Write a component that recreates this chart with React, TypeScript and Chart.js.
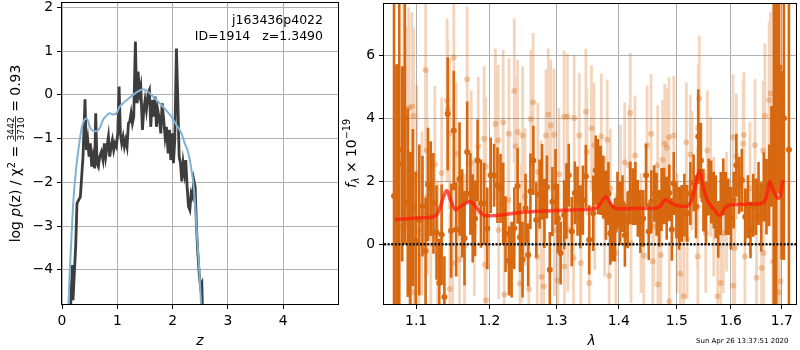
import React, { useEffect, useRef } from 'react';
import { Chart, registerables } from 'chart.js';
Chart.register(...registerables);

const FONT = '"DejaVu Sans", sans-serif';

// ---------------- left panel: p(z) ----------------
const zDark = [0.151, 0.187, 0.199, 0.247, 0.271, 0.302, 0.332, 0.350, 0.380, 0.416, 0.440, 0.465, 0.489, 0.513, 0.537, 0.561, 0.591, 0.609, 0.633, 0.658, 0.682, 0.712, 0.742, 0.766, 0.790, 0.814, 0.839, 0.863, 0.887, 0.911, 0.935, 0.959, 0.983, 1.008, 1.032, 1.056, 1.080, 1.104, 1.128, 1.152, 1.176, 1.201, 1.225, 1.249, 1.273, 1.297, 1.327, 1.351, 1.376, 1.400, 1.424, 1.454, 1.478, 1.502, 1.526, 1.557, 1.581, 1.605, 1.629, 1.653, 1.683, 1.707, 1.732, 1.762, 1.786, 1.810, 1.834, 1.864, 1.888, 1.919, 1.943, 1.967, 1.991, 2.015, 2.039, 2.069, 2.094, 2.118, 2.142, 2.166, 2.190, 2.214, 2.238, 2.262, 2.287, 2.311, 2.335, 2.359, 2.383, 2.407, 2.431, 2.456, 2.480, 2.504, 2.528, 2.540];
const logpDark = [-5.0, -3.89, -4.69, -3.47, -2.48, -2.40, -2.33, -1.98, -1.41, -0.10, -1.26, -1.03, -1.41, -1.11, -1.64, -1.41, -1.68, -0.42, -1.56, -1.64, -1.41, -1.30, -1.49, -1.11, -1.41, -1.18, -0.96, -1.41, -1.18, -1.03, -1.26, -1.11, -1.18, -0.88, 0.19, -0.88, -1.11, -0.96, -1.18, -1.03, -1.18, -0.65, -0.61, -0.42, -0.65, -0.50, 1.22, -0.19, 0.53, 0.03, 0.19, -0.80, -0.35, -0.12, -0.35, 0.03, 0.11, -0.73, -0.12, -0.50, -0.04, -0.73, -0.35, -0.57, -0.88, -0.19, -0.50, -0.96, -0.73, -1.34, -0.80, -1.49, -0.88, -1.56, -1.03, 1.06, -0.12, -1.41, -1.56, -1.98, -1.56, -1.79, -1.49, -2.10, -2.55, -2.63, -2.25, -2.33, -1.95, -2.10, -3.01, -3.62, -4.08, -4.38, -4.31, -5.0];
const zPrior = [0.109, 0.139, 0.169, 0.199, 0.247, 0.296, 0.350, 0.410, 0.452, 0.501, 0.561, 0.621, 0.682, 0.742, 0.802, 0.863, 0.923, 0.983, 1.044, 1.134, 1.225, 1.315, 1.406, 1.466, 1.526, 1.617, 1.707, 1.798, 1.888, 1.979, 2.069, 2.160, 2.220, 2.268, 2.311, 2.341, 2.371, 2.401, 2.431, 2.462, 2.492, 2.522];
const logpPrior = [-5.0, -4.08, -3.32, -2.55, -1.79, -1.26, -0.80, -0.56, -0.54, -0.73, -0.82, -0.83, -0.76, -0.57, -0.48, -0.42, -0.45, -0.42, -0.27, -0.16, -0.06, 0.03, 0.10, 0.13, 0.10, 0.00, -0.12, -0.23, -0.36, -0.50, -0.69, -0.88, -1.11, -1.26, -1.49, -1.72, -1.98, -2.40, -3.01, -3.62, -4.23, -5.0];
const zTicks = [0, 1, 2, 3, 4];
const logpTicks = [-4, -3, -2, -1, 0, 1, 2];

// ---------------- right panel: spectrum ----------------
const modelWave = [1.0728, 1.1, 1.1252, 1.1321, 1.1404, 1.1459, 1.1528, 1.1596, 1.1734, 1.1826, 1.1917, 1.2, 1.2255, 1.251, 1.3, 1.3255, 1.3628, 1.3707, 1.3787, 1.3867, 1.3947, 1.4343, 1.4686, 1.4789, 1.4886, 1.5, 1.521, 1.5317, 1.541, 1.5479, 1.5569, 1.5689, 1.579, 1.5898, 1.6, 1.6314, 1.6627, 1.6706, 1.6758, 1.6837, 1.6915, 1.6967, 1.702];
const modelFlux = [0.79, 0.83, 0.90, 1.20, 1.70, 1.41, 1.09, 1.20, 1.35, 1.14, 0.93, 0.90, 0.95, 1.02, 1.07, 1.09, 1.14, 1.32, 1.51, 1.28, 1.14, 1.14, 1.17, 1.41, 1.33, 1.23, 1.23, 1.72, 2.33, 1.83, 1.35, 1.09, 0.91, 1.17, 1.25, 1.28, 1.32, 1.62, 1.99, 1.67, 1.46, 1.51, 2.04];

const specWave = [1.0714, 1.0748, 1.0781, 1.0819, 1.0853, 1.0891, 1.0925, 1.0957, 1.0995, 1.1041, 1.1083, 1.1124, 1.1156, 1.1193, 1.1229, 1.1270, 1.1307, 1.1339, 1.1376, 1.1421, 1.1468, 1.1504, 1.1537, 1.1583, 1.1620, 1.1652, 1.1689, 1.1734, 1.1766, 1.1799, 1.1835, 1.1882, 1.1927, 1.1972,
  1.2021, 1.2069, 1.2118, 1.2162, 1.2201, 1.2235, 1.2285, 1.2324, 1.2363, 1.2412, 1.2447, 1.2486, 1.2530, 1.2569, 1.2603, 1.2647, 1.2691, 1.2741, 1.2779, 1.2815, 1.2853, 1.2897, 1.2937, 1.2985, 1.3022, 1.3064, 1.3118, 1.3155, 1.3191, 1.3239, 1.3287, 1.3330, 1.3373, 1.3415, 1.3463, 1.3517,
  1.3581, 1.3622, 1.3660, 1.3702, 1.3745, 1.3788, 1.3829, 1.3861, 1.3899, 1.3936, 1.3979, 1.4022, 1.4063, 1.4103, 1.4149, 1.4194, 1.4240, 1.4280, 1.4321, 1.4365, 1.4412, 1.4463, 1.4509, 1.4554, 1.4605, 1.4646, 1.4691, 1.4732, 1.4777, 1.4823, 1.4869, 1.4914, 1.4948, 1.4995, 1.5043, 1.5090, 1.5138, 1.5187, 1.5246, 1.5305,
  1.5348, 1.5390, 1.5438, 1.5485, 1.5533, 1.5582, 1.5628, 1.5677, 1.5713, 1.5761, 1.5808, 1.5856, 1.5904, 1.5951, 1.6000, 1.6053, 1.6104, 1.6157, 1.6210, 1.6275, 1.6327, 1.6378, 1.6431, 1.6484, 1.6535, 1.6588, 1.6641, 1.6692, 1.6745, 1.6790, 1.6837, 1.6888, 1.6941, 1.6994, 1.7041, 1.7144];
const specFlux = [1.53, 0.72, 3.00, 2.55, 4.00, 1.32, 0.14, 1.16, 0.10, 0.77, 1.21, -0.22, 1.90, 1.77, 1.30, 0.37, -1.23, 0.30, -1.68, 4.14, 0.43, 3.61, 0.47, 2.07, 0.98, 0.19, 2.93, 1.60, 0.82, 0.82, 2.66, 1.29, 1.29, 0.50,
  2.19, 2.19, 1.87, 1.77, 1.29, 0.32, -0.53, -0.49, 0.51, 1.85, 0.22, -0.49, 1.14, -0.34, 1.68, 2.66, 0.77, 1.59, 1.98, 0.98, 1.82, -0.81, 1.35, 1.82, 0.82, -0.28, 0.93, 1.37, 2.19, 0.40, 1.63, 1.37, 0.87, 1.40, 2.16, 0.14,
  0.98, 2.35, 2.14, 2.03, 1.82, 1.24, 1.61, 0.35, 0.35, 0.45, 1.40, 0.98, 1.29, 0.28, 0.77, 1.63, 1.51, 1.61, 1.14, 0.72, 0.82, 2.19, 0.40, 1.35, 1.61, 1.27, 0.82, 1.42, 1.53, 1.14, 1.63, 0.47, 1.93, 1.08, 0.82, 0.98, 1.24, 0.98, 1.61, 1.95,
  1.19, 3.42, 2.66, 1.40, 0.98, 1.82, 1.66, 1.40, 1.19, 0.47, 1.29, 1.82, 1.29, 1.19, 0.82, 1.40, 2.51, 1.87, 2.03, 0.87, 1.19, 0.45, 1.24, 1.19, 1.61, 0.87, 1.82, 1.51, 1.87, 2.79, 2.77, 2.98, 5.61, 2.51, 4.00, 3.00];
const specErr = [8.0, 5.0, 6.0, 3.1, 4.0, 3.0, 2.8, 2.5, 2.2, 2.4, 1.6, 1.7, 1.8, 1.5, 1.6, 1.5, 1.4, 1.6, 1.3, 1.8, 1.5, 1.9, 1.5, 1.8, 1.4, 1.5, 1.6, 1.3, 1.4, 1.2, 1.3, 1.4, 1.3, 1.3,
  1.2, 1.0, 1.2, 1.1, 1.3, 1.2, 1.1, 1.2, 1.3, 1.2, 1.1, 1.2, 1.1, 1.0, 1.2, 1.1, 1.2, 1.1, 1.2, 1.1, 1.0, 1.2, 1.1, 1.2, 1.1, 1.0, 1.1, 1.2, 1.0, 1.1, 1.0, 1.1, 1.0, 1.1, 1.0, 1.1,
  1.2, 1.1, 1.2, 1.1, 1.0, 1.1, 1.0, 1.0, 0.9, 1.0, 0.9, 1.0, 0.9, 1.0, 0.9, 1.0, 0.9, 1.0, 0.9, 1.0, 0.9, 1.0, 0.9, 1.0, 0.9, 1.0, 0.9, 1.0, 0.9, 1.0, 0.9, 1.0, 1.0, 0.9, 1.0, 0.9, 1.0, 0.9, 1.0, 0.9,
  1.0, 1.5, 1.2, 1.0, 1.0, 0.9, 1.0, 0.9, 1.0, 0.9, 1.0, 0.9, 1.0, 0.9, 1.0, 0.9, 1.0, 0.9, 1.0, 0.9, 1.0, 0.9, 1.0, 0.9, 1.0, 1.1, 1.1, 1.2, 1.3, 1.6, 5.5, 5.0, 4.0, 3.0, 4.5, 8.0];

const faintWave = [1.0777, 1.0840, 1.0874, 1.0903, 1.0910, 1.0945, 1.0966, 1.0972, 1.1008, 1.1032, 1.1077, 1.1124, 1.1138, 1.1146, 1.1193, 1.1248, 1.1284, 1.1339, 1.1413, 1.1421, 1.1445, 1.1450, 1.1490, 1.1504, 1.1537, 1.1583, 1.1652, 1.1689, 1.1744, 1.1789, 1.1844, 1.1927, 1.1941, 1.1950, 1.1955,
  1.2088, 1.2128, 1.2135, 1.2201, 1.2216, 1.2275, 1.2285, 1.2363, 1.2382, 1.2412, 1.2447, 1.2471, 1.2486, 1.2521, 1.2580, 1.2609, 1.2643, 1.2706, 1.2716, 1.2765, 1.2770, 1.2804, 1.2838, 1.2874, 1.2912, 1.2962, 1.2968, 1.3022, 1.3038, 1.3118, 1.3124, 1.3171, 1.3177, 1.3266, 1.3277, 1.3357, 1.3383, 1.3463, 1.3479, 1.3517, 1.3553,
  1.3596, 1.3606, 1.3713, 1.3766, 1.3809, 1.3841, 1.3861, 1.3952, 1.4030, 1.4100, 1.4177, 1.4194, 1.4206, 1.4274, 1.4377, 1.4424, 1.4480, 1.4549, 1.4578, 1.4595, 1.4664, 1.4670, 1.4720, 1.4750, 1.4789, 1.4823, 1.4863, 1.4868, 1.4948, 1.5007, 1.5066, 1.5126, 1.5174, 1.5187, 1.5246, 1.5276,
  1.5377, 1.5382, 1.5390, 1.5408, 1.5528, 1.5557, 1.5618, 1.5677, 1.5749, 1.5808, 1.5856, 1.5916, 1.6039, 1.6045, 1.6073, 1.6104, 1.6235, 1.6249, 1.6269, 1.6367, 1.6465, 1.6496, 1.6594, 1.6627, 1.6633, 1.6661, 1.6745, 1.6771, 1.6824, 1.6876, 1.6941, 1.6967, 1.6973];
const faintFlux = [0.56, 4.29, 3.72, 4.33, -1.44, 4.37, 4.08, -1.53, 2.24, 0.45, 0.98, 5.53, 2.98, 1.51, 0.35, 2.53, -0.39, 2.26, 4.56, 4.29, 3.51, -1.42, -0.60, 5.93, 2.87, -0.49, -0.07, 5.24, 2.59, 0.56, 3.11, 3.35, -0.65, 2.47, -1.78,
  3.82, 3.29, 0.45, 3.87, -1.60, 1.40, 3.51, 4.87, 3.11, 3.56, -1.25, 0.35, 3.45, 1.51, -1.42, 3.98, 4.51, -0.41, 2.29, 1.19, -1.04, -1.34, 3.45, 4.12, 3.77, 3.48, 0.45, -1.15, 2.22, 4.05, -0.71, 4.05, 0.47, -0.44, 4.01, 3.45, -0.60, 4.21, 2.93, -1.23, 3.68,
  3.14, 1.19, 3.42, 0.87, 3.32, -1.00, 1.77, -0.28, 1.90, 2.60, 2.51, 4.17, 0.03, 2.82, 0.35, -0.37, 3.14, 3.51, -0.55, 0.56, 2.51, -1.28, -0.34, 2.68, 3.19, 3.06, 3.40, -1.81, 3.45, 0.35, -0.94, -1.65, 3.24, 0.16, 2.85, 2.35,
  1.19, -0.39, 3.69, 4.63, 0.35, 2.98, 2.14, 0.87, -1.65, -1.23, 0.35, 1.03, 3.40, -1.32, -0.13, 2.79, 3.19, 3.47, -0.39, 1.77, 3.14, -1.07, -0.76, 2.98, -0.28, 4.08, 4.58, 4.79, -0.55, 5.84, -1.53, 5.61, -1.18];
const faintErr = [4.5, 3.5, 3.2, 3.2, 3.0, 3.0, 2.8, 2.8, 2.8, 2.7, 2.6, 2.6, 2.6, 2.5, 2.5, 2.5, 2.4, 2.4, 2.6, 2.2, 2.4, 2.4, 2.4, 2.4, 2.3, 2.3, 2.3, 2.3, 2.3, 2.2, 2.2, 2.3, 2.2, 2.2, 2.2,
  2.4, 2.4, 2.2, 2.3, 2.2, 2.2, 2.4, 2.3, 2.2, 2.3, 2.2, 2.2, 2.2, 2.2, 2.2, 2.2, 2.2, 2.1, 2.2, 2.1, 2.1, 2.1, 2.1, 2.1, 2.1, 2.1, 2.1, 2.1, 2.1, 2.1, 2.0, 2.0, 2.0, 2.0, 2.0, 2.0, 2.0, 2.0, 2.0, 2.0, 2.0,
  2.0, 2.0, 2.0, 1.9, 1.9, 1.9, 1.9, 1.9, 1.9, 1.9, 1.9, 1.9, 1.9, 1.9, 1.9, 1.9, 1.9, 1.9, 1.9, 1.9, 1.9, 1.9, 1.9, 1.9, 1.9, 1.9, 1.9, 1.9, 1.9, 1.9, 1.9, 1.9, 1.9, 1.9, 1.9, 1.9,
  1.9, 1.9, 2.0, 2.0, 1.9, 1.9, 1.9, 1.9, 1.9, 1.9, 1.9, 1.9, 2.0, 2.0, 2.0, 2.0, 2.0, 2.0, 2.0, 2.1, 2.1, 2.1, 2.2, 2.2, 2.2, 2.3, 2.5, 2.6, 2.7, 3.0, 3.2, 3.4, 3.4];

const waveTicks = [1.1, 1.2, 1.3, 1.4, 1.5, 1.6, 1.7];
const fluxTicks = [0, 2, 4, 6];
const waveRange = [1.0587, 1.7289];
const zeroLevel = [0, 0];

// ---------------- helpers ----------------
const DARK = 'rgb(215,104,16)';
const LIGHT_BAR = 'rgba(215,104,16,0.28)';
const LIGHT_PT = 'rgba(215,104,16,0.33)';
const fmtNum = (v: number) => (v < 0 ? '\u2212' + Math.abs(v) : String(v));

function errSegments(w: number[], f: number[], e: number[]) {
  const out: any[] = [];
  w.forEach((x, i) => {
    out.push({ x, y: f[i] - e[i] }, { x, y: f[i] + e[i] }, { x, y: null });
  });
  return out;
}
function pts(xs: number[], ys: number[]) {
  return xs.map((x, i) => ({ x, y: ys[i] }));
}

type Seg = { t?: string; size: number; italic?: boolean; dy?: number; frac?: [string, string] };
function drawRich(ctx: CanvasRenderingContext2D, segs: Seg[], cx: number, cy: number, rot: boolean) {
  ctx.save();
  ctx.translate(cx, cy);
  if (rot) ctx.rotate(-Math.PI / 2);
  const font = (s: Seg) => `${s.italic ? 'italic ' : ''}${s.size}px ${FONT}`;
  const widths = segs.map((s) => {
    ctx.font = font(s);
    if (s.frac) return Math.max(ctx.measureText(s.frac[0]).width, ctx.measureText(s.frac[1]).width) + 2;
    return ctx.measureText(s.t || '').width;
  });
  const total = widths.reduce((a, b) => a + b, 0);
  let x = -total / 2;
  const base = 5;
  ctx.fillStyle = '#000';
  ctx.textBaseline = 'alphabetic';
  segs.forEach((s, i) => {
    ctx.font = font(s);
    if (s.frac) {
      const w = widths[i];
      const barY = base - 4.6;
      ctx.fillRect(x, barY - 0.4, w, 0.8);
      ctx.textAlign = 'center';
      ctx.fillText(s.frac[0], x + w / 2, barY - 1.4);
      ctx.fillText(s.frac[1], x + w / 2, barY + 1.4 + s.size * 0.73);
    } else {
      ctx.textAlign = 'left';
      ctx.fillText(s.t || '', x, base + (s.dy || 0));
    }
    x += widths[i];
  });
  ctx.restore();
}

const framePlugin = {
  id: 'frame',
  afterDraw(chart: any) {
    const { ctx, chartArea: a } = chart;
    ctx.save();
    ctx.strokeStyle = '#000';
    ctx.lineWidth = 1;
    ctx.strokeRect(Math.round(a.left) - 0.5, Math.round(a.top) - 0.5, Math.round(a.right - a.left) + 1, Math.round(a.bottom - a.top) + 1);
    ctx.restore();
  },
};

function gridCfg() {
  return { color: '#b0b0b0', lineWidth: 1, tickColor: '#000', tickLength: 5, drawTicks: true };
}
function fitY(w: number) {
  return (s: any) => { s.width = w; s.paddingTop = 0; s.paddingBottom = 0; s.paddingLeft = 0; s.paddingRight = 0; };
}
function fitX(h: number) {
  return (s: any) => { s.height = h; s.paddingLeft = 0; s.paddingRight = 0; s.paddingTop = 0; s.paddingBottom = 0; };
}
const tickFont = { family: FONT, size: 13.9 };

export default function App() {
  const leftRef = useRef<HTMLCanvasElement>(null);
  const rightRef = useRef<HTMLCanvasElement>(null);

  useEffect(() => {
    const leftLabels = {
      id: 'leftLabels',
      afterDraw(chart: any) {
        const ctx = chart.ctx as CanvasRenderingContext2D;
        ctx.save();
        ctx.fillStyle = '#000';
        ctx.font = `12.5px ${FONT}`;
        ctx.textAlign = 'right';
        ctx.textBaseline = 'alphabetic';
        ctx.fillText('j163436p4022', 323, 24);
        ctx.fillText('ID=1914   z=1.3490', 323, 39.5);
        ctx.font = `italic 13.9px ${FONT}`;
        ctx.textAlign = 'center';
        ctx.fillText('z', 200, 345);
        ctx.restore();
        drawRich(ctx, [
          { t: 'log ', size: 13.9 },
          { t: 'p', size: 13.9, italic: true },
          { t: '(z) / \u03c7', size: 13.9 },
          { t: '2', size: 9.7, dy: -5.5 },
          { t: ' = ', size: 13.9 },
          { frac: ['3442', '3710'], size: 9.2 },
          { t: ' = 0.93', size: 13.9 },
        ], 15, 153.5, true);
      },
    };
    const rightLabels = {
      id: 'rightLabels',
      afterDraw(chart: any) {
        const ctx = chart.ctx as CanvasRenderingContext2D;
        ctx.save();
        ctx.fillStyle = '#000';
        ctx.font = `italic 13.9px ${FONT}`;
        ctx.textAlign = 'center';
        ctx.textBaseline = 'alphabetic';
        ctx.fillText('\u03bb', 251.5, 345);
        ctx.font = `7px ${FONT}`;
        ctx.textAlign = 'left';
        ctx.fillText('Sun Apr 26 13:37:51 2020', 356, 342.5);
        ctx.restore();
        drawRich(ctx, [
          { t: 'f', size: 13.9, italic: true },
          { t: '\u03bb', size: 9.7, italic: true, dy: 3 },
          { t: ' \u00d7 10', size: 13.9 },
          { t: '\u221219', size: 9.7, dy: -6 },
        ], 11, 153.5, true);
      },
    };

    const left = new Chart(leftRef.current!, {
      type: 'line',
      data: {
        datasets: [
          { data: pts(zPrior, logpPrior), borderColor: '#80b2d6', borderWidth: 2, pointRadius: 0, cubicInterpolationMode: 'monotone', order: 1 } as any,
          { data: pts(zDark, logpDark), borderColor: '#3d3d3d', borderWidth: 2.8, pointRadius: 0, tension: 0, order: 2 } as any,
        ],
      },
      options: {
        animation: false,
        responsive: false,
        devicePixelRatio: 1,
        layout: { padding: { top: 3, right: 2, left: 0, bottom: 0 } },
        plugins: { legend: { display: false }, tooltip: { enabled: false } },
        scales: {
          x: {
            type: 'linear', min: 0, max: 4.99,
            afterBuildTicks: (s: any) => { s.ticks = zTicks.map((v) => ({ value: v })); },
            afterFit: fitX(46),
            grid: gridCfg(), border: { display: false },
            ticks: { color: '#000', font: tickFont, padding: 4, maxRotation: 0, autoSkip: false, callback: (v: any) => fmtNum(Number(v)) },
          },
          y: {
            type: 'linear', min: -4.78, max: 2.1,
            afterBuildTicks: (s: any) => { s.ticks = logpTicks.map((v) => ({ value: v })); },
            afterFit: fitY(62),
            grid: gridCfg(), border: { display: false },
            ticks: { color: '#000', font: tickFont, padding: 4, autoSkip: false, callback: (v: any) => fmtNum(Number(v)) },
          },
        },
      },
      plugins: [framePlugin, leftLabels],
    });

    const right = new Chart(rightRef.current!, {
      type: 'line',
      data: {
        datasets: [
          { data: pts(modelWave, modelFlux), borderColor: 'rgba(255,25,10,0.72)', borderWidth: 3.5, pointRadius: 0, tension: 0.35, order: 0 } as any,
          { data: pts(waveRange, zeroLevel), borderColor: '#111', borderWidth: 2.4, borderDash: [2, 1.6], pointRadius: 0, order: 1 } as any,
          { data: pts(specWave, specFlux), showLine: false, pointRadius: 3, pointBackgroundColor: DARK, pointBorderWidth: 0, borderColor: DARK, order: 2 } as any,
          { data: errSegments(specWave, specFlux, specErr), borderColor: DARK, borderWidth: 2.6, pointRadius: 0, spanGaps: false, order: 3 } as any,
          { data: pts(faintWave, faintFlux), showLine: false, pointRadius: 3, pointBackgroundColor: LIGHT_PT, pointBorderWidth: 0, borderColor: LIGHT_PT, order: 4 } as any,
          { data: errSegments(faintWave, faintFlux, faintErr), borderColor: LIGHT_BAR, borderWidth: 2.8, pointRadius: 0, spanGaps: false, order: 5 } as any,
        ],
      },
      options: {
        animation: false,
        responsive: false,
        devicePixelRatio: 1,
        layout: { padding: { top: 3, right: 1, left: 0, bottom: 0 } },
        plugins: { legend: { display: false }, tooltip: { enabled: false } },
        scales: {
          x: {
            type: 'logarithmic', min: waveRange[0], max: waveRange[1],
            afterBuildTicks: (s: any) => { s.ticks = waveTicks.map((v) => ({ value: v })); },
            afterFit: fitX(46),
            grid: gridCfg(), border: { display: false },
            ticks: { color: '#000', font: tickFont, padding: 4, maxRotation: 0, autoSkip: false, callback: (v: any) => Number(v).toFixed(1) },
          },
          y: {
            type: 'linear', min: -1.9, max: 7.63,
            afterBuildTicks: (s: any) => { s.ticks = fluxTicks.map((v) => ({ value: v })); },
            afterFit: fitY(44),
            grid: gridCfg(), border: { display: false },
            ticks: { color: '#000', font: tickFont, padding: 4, autoSkip: false, callback: (v: any) => fmtNum(Number(v)) },
          },
        },
      },
      plugins: [framePlugin, rightLabels],
    });

    return () => { left.destroy(); right.destroy(); };
  }, []);

  return (
    <div style={{ position: 'fixed', left: 0, top: 0, width: 800, height: 350, background: '#fff' }}>
      <canvas ref={leftRef} width={340} height={350} style={{ position: 'absolute', left: 0, top: 0, width: 340, height: 350 }} />
      <canvas ref={rightRef} width={460} height={350} style={{ position: 'absolute', left: 340, top: 0, width: 460, height: 350 }} />
    </div>
  );
}
